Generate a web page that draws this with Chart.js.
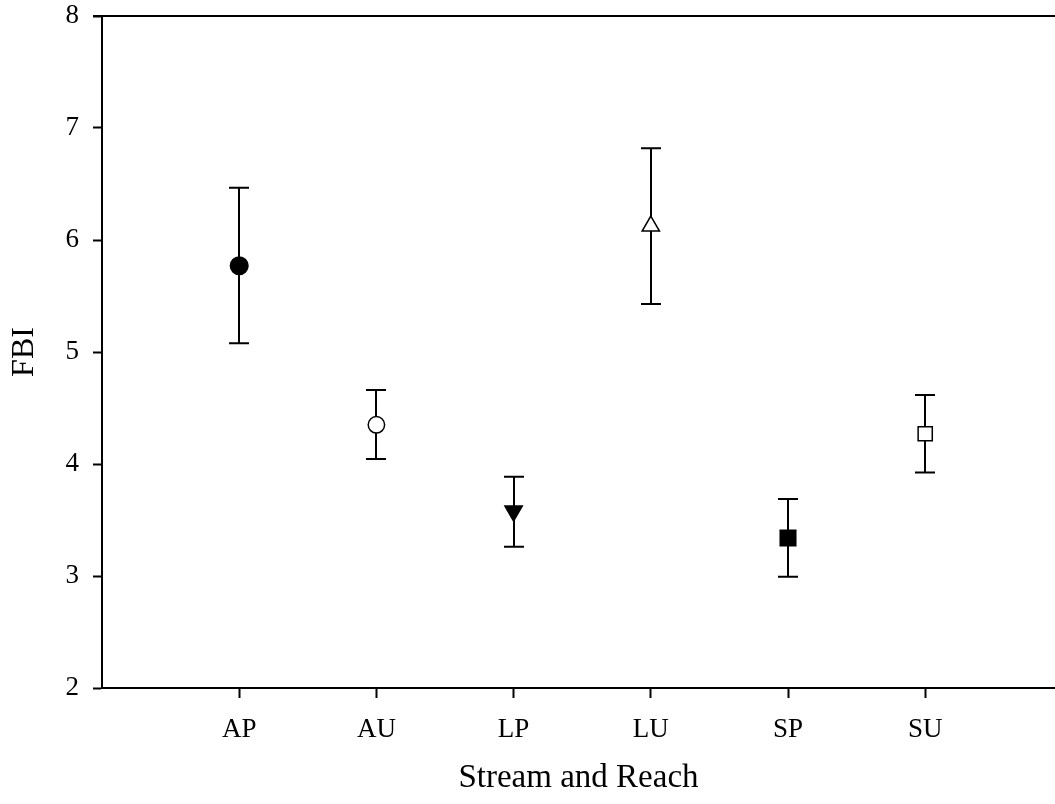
<!DOCTYPE html>
<html>
<head>
<meta charset="utf-8">
<script src="https://cdn.jsdelivr.net/npm/chart.js@4.4.0/dist/chart.umd.min.js"></script>
<style>
  html, body { margin: 0; padding: 0; background: #ffffff; }
  #wrap { width: 1055px; height: 804px; position: relative; }
</style>
</head>
<body>
<div id="wrap"><canvas id="c" width="1055" height="804"></canvas></div>
<script>
// ---- data ----
const categories = ['AP', 'AU', 'LP', 'LU', 'SP', 'SU'];
const xPositions = [1, 2, 3, 4, 5, 6];
const means      = [5.77, 4.35, 3.58, 6.125, 3.34, 4.27];
const upperErr   = [6.467, 4.661, 3.887, 6.819, 3.688, 4.616];
const lowerErr   = [5.078, 4.045, 3.262, 5.429, 2.994, 3.924];
const yTicks     = [2, 3, 4, 5, 6, 7, 8];

// ---- marker styles (not data) ----
const markerStyle = ['circle', 'circle', 'triangle', 'triangle', 'rect', 'rect'];
const markerFill  = ['#000000', '#ffffff', '#000000', '#ffffff', '#000000', '#ffffff'];
const markerRot   = [0, 0, 180, 0, 0, 0];
const markerRad   = [8.8, 8.2, 10, 10, 11, 10];

const FONT = "'Liberation Serif', 'Times New Roman', serif";

const errorBars = {
  id: 'errorBars',
  beforeDatasetsDraw(chart) {
    const ctx = chart.ctx;
    const xs = chart.scales.x, ys = chart.scales.y;
    ctx.save();
    ctx.strokeStyle = '#000';
    ctx.lineWidth = 2;
    xPositions.forEach((xv, i) => {
      const px = Math.round(xs.getPixelForValue(xv));
      const pu = ys.getPixelForValue(upperErr[i]);
      const pl = ys.getPixelForValue(lowerErr[i]);
      ctx.beginPath();
      ctx.moveTo(px, pu); ctx.lineTo(px, pl);
      ctx.moveTo(px - 10, pu); ctx.lineTo(px + 10, pu);
      ctx.moveTo(px - 10, pl); ctx.lineTo(px + 10, pl);
      ctx.stroke();
    });
    ctx.restore();
  }
};

const topLine = {
  id: 'topLine',
  afterDraw(chart) {
    const ctx = chart.ctx, a = chart.chartArea;
    ctx.save();
    ctx.strokeStyle = '#000';
    ctx.lineWidth = 2;
    ctx.beginPath();
    ctx.moveTo(a.left - 9, a.top);
    ctx.lineTo(chart.width, a.top);
    ctx.stroke();
    ctx.restore();
  }
};

new Chart(document.getElementById('c'), {
  type: 'scatter',
  data: {
    datasets: [{
      data: xPositions.map((x, i) => ({ x: x, y: means[i] })),
      pointStyle: markerStyle,
      backgroundColor: markerFill,
      borderColor: '#000000',
      borderWidth: 1.5,
      pointRadius: markerRad,
      pointRotation: markerRot,
      showLine: false
    }]
  },
  options: {
    responsive: false,
    animation: false,
    events: [],
    layout: { autoPadding: false, padding: { top: 16, right: 0, left: 0, bottom: 0 } },
    plugins: { legend: { display: false }, tooltip: { enabled: false } },
    scales: {
      x: {
        type: 'linear',
        min: 0,
        max: 6.946,
        afterBuildTicks(scale) { scale.ticks = xPositions.map(v => ({ value: v })); },
        afterFit(scale) {
          scale.height = 116;
          scale.paddingLeft = 0; scale.paddingRight = 0;
          scale.paddingTop = 0; scale.paddingBottom = 0;
        },
        ticks: {
          color: '#000',
          font: { family: FONT, size: 27, lineHeight: 1 },
          padding: 18,
          maxRotation: 0,
          autoSkip: false,
          callback: (v) => categories[xPositions.indexOf(v)]
        },
        grid: { drawOnChartArea: false, drawTicks: true, tickLength: 10, tickColor: '#000', tickWidth: 2 },
        border: { display: true, color: '#000', width: 2 },
        title: { display: true, text: 'Stream and Reach', color: '#000',
                 font: { family: FONT, size: 33, lineHeight: 1.2 }, padding: { top: 0, bottom: 6 } }
      },
      y: {
        min: 2,
        max: 8,
        afterBuildTicks(scale) { scale.ticks = yTicks.map(v => ({ value: v })); },
        afterFit(scale) {
          scale.width = 102;
          scale.paddingTop = 0; scale.paddingBottom = 0;
          scale.paddingLeft = 0; scale.paddingRight = 0;
        },
        ticks: {
          color: '#000',
          font: { family: FONT, size: 27, lineHeight: 1 },
          padding: 14
        },
        grid: { drawOnChartArea: false, drawTicks: true, tickLength: 9, tickColor: '#000', tickWidth: 2 },
        border: { display: true, color: '#000', width: 2 },
        title: { display: true, text: 'FBI', color: '#000',
                 font: { family: FONT, size: 32, lineHeight: 1.2 }, padding: { top: 5, bottom: 0 } }
      }
    }
  },
  plugins: [errorBars, topLine]
});
</script>
</body>
</html>
